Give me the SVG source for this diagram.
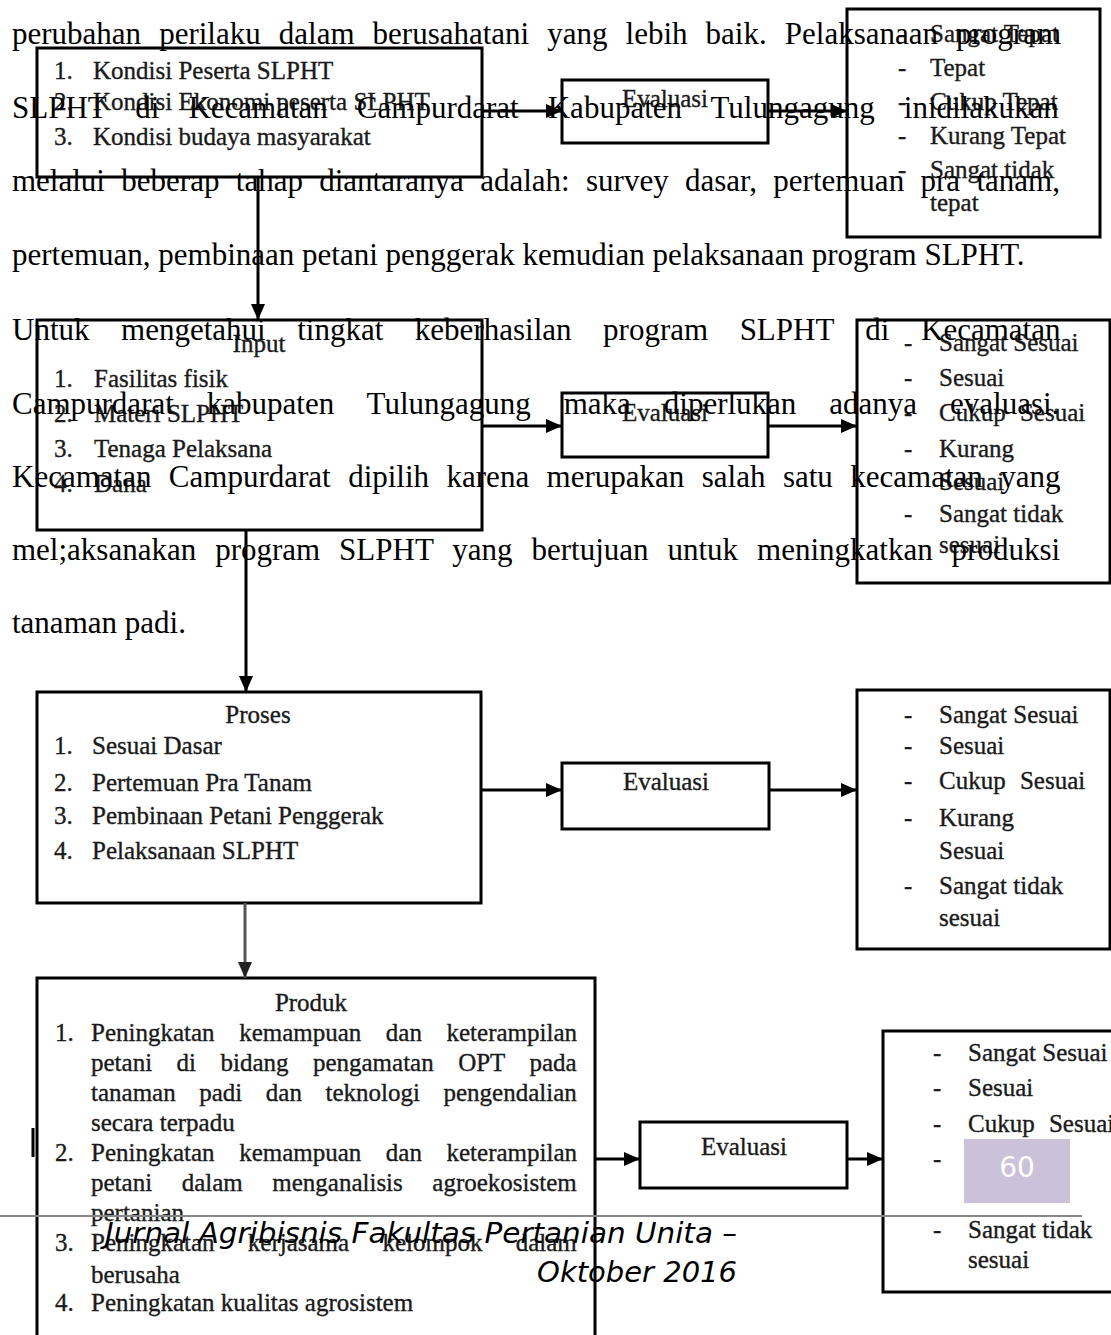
<svg xmlns="http://www.w3.org/2000/svg" width="1111" height="1335" viewBox="0 0 1111 1335">
<style>
.body{font-family:"Liberation Serif","Times New Roman",serif;font-size:31px;fill:#000}
.dg{font-family:"Liberation Serif","Times New Roman",serif;font-size:25px;fill:#1a1a1a;stroke:#1a1a1a;stroke-width:0.35}
.ttl{text-anchor:middle}
.box{fill:#fff;stroke:#000;stroke-width:3}
.conn{stroke:#000;stroke-width:3;fill:none}
.foot{font-family:"DejaVu Sans",sans-serif;font-style:italic;font-size:29px;fill:#000}
</style>
<defs>
<marker id="ah" markerUnits="userSpaceOnUse" markerWidth="16" markerHeight="14" refX="16" refY="7" orient="auto"><path d="M0,0 L16,7 L0,14 z" fill="#000"/></marker>
<marker id="ahg" markerUnits="userSpaceOnUse" markerWidth="16" markerHeight="14" refX="16" refY="7" orient="auto"><path d="M0,0 L16,7 L0,14 z" fill="#222"/></marker>
</defs>
<rect width="1111" height="1335" fill="#fff"/>

<g id="n-konteks">
<rect class="box" x="37" y="48" width="445" height="129"/>
<text class="dg" x="54" y="79">1.</text><text class="dg" x="93" y="79">Kondisi Peserta SLPHT</text>
<text class="dg" x="54" y="110">2.</text><text class="dg" x="93" y="110">Kondisi Ekonomi peserta SLPHT</text>
<text class="dg" x="54" y="145">3.</text><text class="dg" x="93" y="145">Kondisi budaya masyarakat</text>
</g>
<g id="n-eval1">
<rect class="box" x="562" y="80" width="206" height="63"/>
<text class="dg ttl" x="665" y="107">Evaluasi</text>
</g>
<g id="n-hasil1">
<rect class="box" x="847" y="9" width="253" height="228"/>
<text class="dg" x="898" y="42">-</text><text class="dg" x="930" y="42">Sangat Tepat</text>
<text class="dg" x="898" y="76">-</text><text class="dg" x="930" y="76">Tepat</text>
<text class="dg" x="898" y="110">-</text><text class="dg" x="930" y="110">Cukup Tepat</text>
<text class="dg" x="898" y="144">-</text><text class="dg" x="930" y="144">Kurang Tepat</text>
<text class="dg" x="898" y="178">-</text><text class="dg" x="930" y="178">Sangat tidak</text>
<text class="dg" x="930" y="211">tepat</text>
</g>

<g id="n-input">
<rect class="box" x="37" y="320" width="445" height="210"/>
<text class="dg ttl" x="259" y="352">Input</text>
<text class="dg" x="54" y="387">1.</text><text class="dg" x="94" y="387">Fasilitas fisik</text>
<text class="dg" x="54" y="422">2.</text><text class="dg" x="94" y="422">Materi SLPHT</text>
<text class="dg" x="54" y="457">3.</text><text class="dg" x="94" y="457">Tenaga Pelaksana</text>
<text class="dg" x="54" y="492">4.</text><text class="dg" x="94" y="492">Dana</text>
</g>
<g id="n-eval2">
<rect class="box" x="562" y="393" width="206" height="64"/>
<text class="dg ttl" x="665" y="421">Evaluasi</text>
</g>
<g id="n-hasil2">
<rect class="box" x="857" y="320" width="253" height="263"/>
<text class="dg" x="904" y="351">-</text><text class="dg" x="939" y="351">Sangat Sesuai</text>
<text class="dg" x="904" y="386">-</text><text class="dg" x="939" y="386">Sesuai</text>
<text class="dg" x="904" y="421">-</text><text class="dg" x="939" y="421" word-spacing="8">Cukup Sesuai</text>
<text class="dg" x="904" y="457">-</text><text class="dg" x="939" y="457">Kurang</text>
<text class="dg" x="939" y="490">Sesuai</text>
<text class="dg" x="904" y="522">-</text><text class="dg" x="939" y="522">Sangat tidak</text>
<text class="dg" x="939" y="553">sesuai</text>
</g>

<g id="n-proses">
<rect class="box" x="37" y="692" width="444" height="211"/>
<text class="dg ttl" x="258" y="723">Proses</text>
<text class="dg" x="54" y="754">1.</text><text class="dg" x="92" y="754">Sesuai Dasar</text>
<text class="dg" x="54" y="791">2.</text><text class="dg" x="92" y="791">Pertemuan Pra Tanam</text>
<text class="dg" x="54" y="824">3.</text><text class="dg" x="92" y="824">Pembinaan Petani Penggerak</text>
<text class="dg" x="54" y="859">4.</text><text class="dg" x="92" y="859">Pelaksanaan SLPHT</text>
</g>
<g id="n-eval3">
<rect class="box" x="562" y="763" width="207" height="66"/>
<text class="dg ttl" x="666" y="790">Evaluasi</text>
</g>
<g id="n-hasil3">
<rect class="box" x="857" y="690" width="253" height="259"/>
<text class="dg" x="904" y="723">-</text><text class="dg" x="939" y="723">Sangat Sesuai</text>
<text class="dg" x="904" y="754">-</text><text class="dg" x="939" y="754">Sesuai</text>
<text class="dg" x="904" y="789">-</text><text class="dg" x="939" y="789" word-spacing="8">Cukup Sesuai</text>
<text class="dg" x="904" y="826">-</text><text class="dg" x="939" y="826">Kurang</text>
<text class="dg" x="939" y="859">Sesuai</text>
<text class="dg" x="904" y="894">-</text><text class="dg" x="939" y="894">Sangat tidak</text>
<text class="dg" x="939" y="926">sesuai</text>
</g>

<g id="n-produk">
<rect class="box" x="37" y="978" width="558" height="420"/>
<text class="dg ttl" x="311" y="1011">Produk</text>
<text class="dg" x="55" y="1041">1.</text><text class="dg" x="91" y="1041" word-spacing="18.3">Peningkatan kemampuan dan keterampilan</text>
<text class="dg" x="91" y="1071" word-spacing="18.2">petani di bidang pengamatan OPT pada</text>
<text class="dg" x="91" y="1101" word-spacing="17.3">tanaman padi dan teknologi pengendalian</text>
<text class="dg" x="91" y="1131">secara terpadu</text>
<text class="dg" x="55" y="1161">2.</text><text class="dg" x="91" y="1161" word-spacing="18.3">Peningkatan kemampuan dan keterampilan</text>
<text class="dg" x="91" y="1191" word-spacing="23.3">petani dalam menganalisis agroekosistem</text>
<text class="dg" x="91" y="1221">pertanian</text>
<text class="dg" x="55" y="1251">3.</text><text class="dg" x="91" y="1251" word-spacing="27">Peningkatan kerjasama kelompok dalam</text>
<text class="dg" x="91" y="1283">berusaha</text>
<text class="dg" x="55" y="1311">4.</text><text class="dg" x="91" y="1311">Peningkatan kualitas agrosistem</text>
</g>
<line x1="33" y1="1128" x2="33" y2="1157" stroke="#000" stroke-width="3"/>
<g id="n-eval4">
<rect class="box" x="640" y="1122" width="207" height="66"/>
<text class="dg ttl" x="744" y="1155">Evaluasi</text>
</g>
<g id="n-hasil4">
<rect class="box" x="883" y="1031" width="240" height="261"/>
<text class="dg" x="933" y="1061">-</text><text class="dg" x="968" y="1061">Sangat Sesuai</text>
<text class="dg" x="933" y="1096">-</text><text class="dg" x="968" y="1096">Sesuai</text>
<text class="dg" x="933" y="1132">-</text><text class="dg" x="968" y="1132" word-spacing="8">Cukup Sesuai</text>
<text class="dg" x="933" y="1167">-</text><text class="dg" x="968" y="1167">Kurang</text>
<text class="dg" x="968" y="1202">Sesuai</text>
<text class="dg" x="933" y="1238">-</text><text class="dg" x="968" y="1238">Sangat tidak</text>
<text class="dg" x="968" y="1268">sesuai</text>
</g>

<g id="connectors">
<line class="conn" x1="258" y1="177" x2="258" y2="320" marker-end="url(#ah)"/>
<line class="conn" x1="482" y1="111" x2="562" y2="111" marker-end="url(#ah)"/>
<line class="conn" x1="768" y1="111" x2="847" y2="111" marker-end="url(#ah)"/>
<line class="conn" x1="246" y1="530" x2="246" y2="692" marker-end="url(#ah)"/>
<line class="conn" x1="482" y1="426" x2="562" y2="426" marker-end="url(#ah)"/>
<line class="conn" x1="768" y1="426" x2="857" y2="426" marker-end="url(#ah)"/>
<line class="conn" x1="481" y1="790" x2="562" y2="790" marker-end="url(#ah)"/>
<line class="conn" x1="769" y1="790" x2="857" y2="790" marker-end="url(#ah)"/>
<line class="conn" x1="245" y1="903" x2="245" y2="978" style="stroke:#555" marker-end="url(#ahg)"/>
<line class="conn" x1="595" y1="1159" x2="640" y2="1159" marker-end="url(#ah)"/>
<line class="conn" x1="847" y1="1159" x2="883" y2="1159" marker-end="url(#ah)"/>
</g>

<g id="page-text" class="body">
<text x="12" y="44" word-spacing="10.3">perubahan perilaku dalam berusahatani yang lebih baik. Pelaksanaan program</text>
<text x="12" y="118" word-spacing="21.3">SLPHT di Kecamatan Campurdarat Kabupaten Tulungagung inidilakukan</text>
<text x="12" y="191" word-spacing="8.6">melalui beberap tahap diantaranya adalah: survey dasar, pertemuan pra tanam,</text>
<text x="12" y="265">pertemuan, pembinaan petani penggerak kemudian pelaksanaan program SLPHT.</text>
<text x="12" y="340" word-spacing="23.8">Untuk mengetahui tingkat keberhasilan program SLPHT di Kecamatan</text>
<text x="12" y="414" word-spacing="25.2">Campurdarat kabupaten Tulungagung maka diperlukan adanya evaluasi.</text>
<text x="12" y="487" word-spacing="9.7">Kecamatan Campurdarat dipilih karena merupakan salah satu kecamatan yang</text>
<text x="12" y="560" word-spacing="11.2">mel;aksanakan program SLPHT yang bertujuan untuk meningkatkan produksi</text>
<text x="12" y="633">tanaman padi.</text>
</g>

<g id="page-number">
<rect x="964" y="1139" width="106" height="64" fill="#cbc1d9"/>
<text x="1017" y="1177" font-family="DejaVu Sans, sans-serif" font-size="28" fill="#fff" text-anchor="middle">60</text>
</g>

<g id="footer">
<line x1="0" y1="1216" x2="1082" y2="1216" stroke="#888" stroke-width="2"/>
<text class="foot" x="105" y="1243" textLength="632" lengthAdjust="spacingAndGlyphs">Jurnal Agribisnis Fakultas Pertanian Unita –</text>
<text class="foot" x="737" y="1282" text-anchor="end">Oktober 2016</text>
</g>
</svg>
